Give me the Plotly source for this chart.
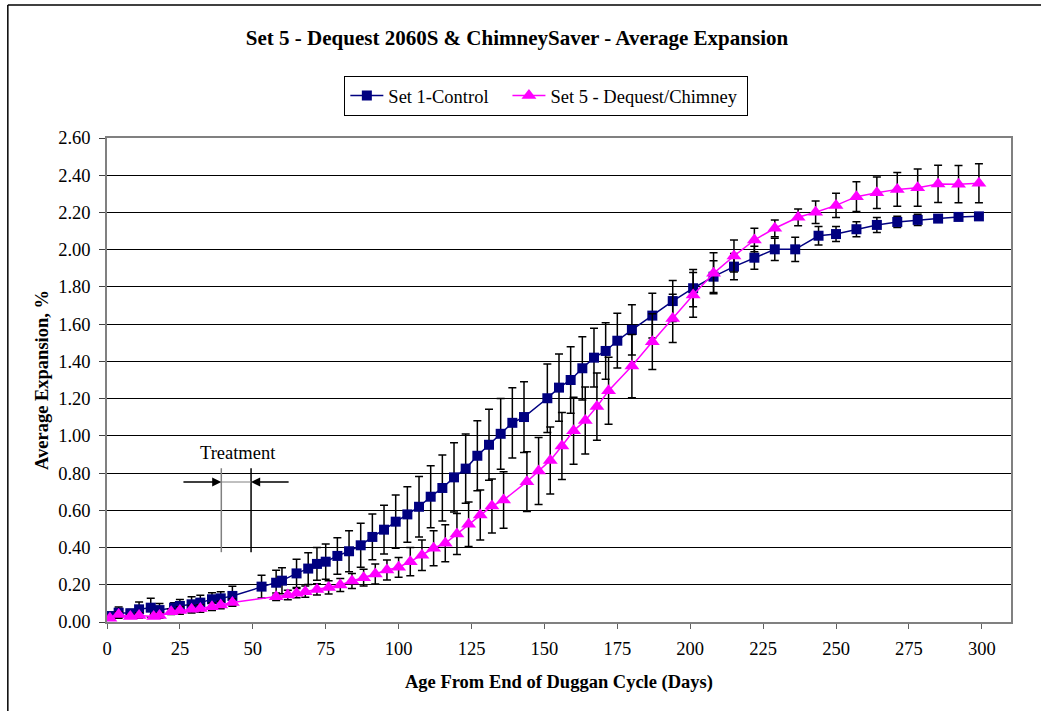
import plotly.graph_objects as go

# ---- data ----
control_days = [1, 4, 8, 11, 15, 18, 23, 25, 29, 32, 36, 39, 43, 53, 58, 60, 65, 69, 72, 75,
                79, 83, 87, 91, 95, 99, 103, 107, 111, 115, 119, 123, 127, 131, 135, 139, 143,
                151, 155, 159, 163, 167, 171, 175, 180, 187, 194, 201, 208, 215, 222, 229, 236,
                244, 250, 257, 264, 271, 278, 285, 292, 299]
control_vals = [0.032, 0.050, 0.047, 0.068, 0.077, 0.064, 0.077, 0.086, 0.095, 0.104, 0.122, 0.127,
                0.140, 0.190, 0.211, 0.222, 0.261, 0.287, 0.312, 0.324, 0.355, 0.380, 0.412, 0.457,
                0.496, 0.539, 0.578, 0.619, 0.673, 0.720, 0.777, 0.824, 0.893, 0.952, 1.011, 1.070,
                1.101, 1.202, 1.259, 1.300, 1.363, 1.420, 1.456, 1.511, 1.569, 1.646, 1.724, 1.793,
                1.855, 1.909, 1.957, 2.002, 2.002, 2.075, 2.084, 2.110, 2.133, 2.149, 2.160, 2.167,
                2.176, 2.179]
control_err = [0.02, 0.03, 0.02, 0.04, 0.05, 0.035, 0.027, 0.035, 0.04, 0.04, 0.035, 0.035, 0.052,
               0.061, 0.067, 0.07, 0.076, 0.085, 0.088, 0.095, 0.098, 0.11, 0.118, 0.123, 0.131,
               0.143, 0.149, 0.162, 0.167, 0.177, 0.186, 0.186, 0.188, 0.191, 0.19, 0.189, 0.19,
               0.184, 0.181, 0.179, 0.17, 0.158, 0.152, 0.147, 0.135, 0.12, 0.11, 0.10, 0.085,
               0.07, 0.062, 0.06, 0.065, 0.05, 0.04, 0.04, 0.04, 0.03, 0.03, 0.01, 0.01, 0.01]

dequest_days = [1, 4, 8, 11, 16, 18, 22, 25, 29, 32, 36, 39, 43, 58, 62, 65, 68, 72, 76, 80, 84,
                88, 92, 96, 100, 104, 108, 112, 116, 120, 124, 128, 132, 136, 144, 148, 152, 156,
                160, 164, 168, 172, 180, 187, 194, 201, 208, 215, 222, 229, 237, 243, 250, 257,
                264, 271, 278, 285, 292, 299]
dequest_vals = [0.02, 0.04, 0.03, 0.035, 0.03, 0.035, 0.055, 0.062, 0.068, 0.073, 0.082, 0.091,
                0.105, 0.136, 0.145, 0.155, 0.163, 0.175, 0.186, 0.199, 0.220, 0.238, 0.258, 0.279,
                0.294, 0.324, 0.358, 0.396, 0.423, 0.473, 0.525, 0.575, 0.623, 0.655, 0.754, 0.811,
                0.868, 0.945, 1.027, 1.082, 1.157, 1.242, 1.375, 1.506, 1.631, 1.757, 1.873, 1.966,
                2.052, 2.115, 2.174, 2.201, 2.238, 2.285, 2.306, 2.324, 2.333, 2.353, 2.352, 2.357]
dequest_err = [0.01, 0.015, 0.01, 0.015, 0.01, 0.015, 0.015, 0.02, 0.02, 0.02, 0.02, 0.02, 0.02,
               0.02, 0.025, 0.025, 0.03, 0.03, 0.035, 0.035, 0.04, 0.045, 0.054, 0.054, 0.053,
               0.076, 0.082, 0.094, 0.1, 0.11, 0.12, 0.134, 0.145, 0.152, 0.16, 0.18, 0.18, 0.18,
               0.18, 0.18, 0.18, 0.18, 0.17, 0.15, 0.13, 0.12, 0.11, 0.086, 0.063, 0.045, 0.045,
               0.06, 0.065, 0.08, 0.085, 0.09, 0.1, 0.1, 0.1, 0.105]

series_names = ["Set 1-Control", "Set 5 - Dequest/Chimney"]
x_ticks = [0, 25, 50, 75, 100, 125, 150, 175, 200, 225, 250, 275, 300]
y_ticks = [0.0, 0.2, 0.4, 0.6, 0.8, 1.0, 1.2, 1.4, 1.6, 1.8, 2.0, 2.2, 2.4, 2.6]

FONT = "Liberation Serif, Times New Roman, serif"
FS = 18.5

fig = go.Figure()
fig.add_trace(go.Scatter(
    x=control_days, y=control_vals, name=series_names[0] + "&nbsp;&nbsp;&nbsp;",
    mode="lines+markers",
    line=dict(color="#000080", width=1.5),
    marker=dict(symbol="square", size=10, color="#000080"),
    error_y=dict(type="data", array=control_err, visible=True, color="black",
                 thickness=1.5, width=4),
))
fig.add_trace(go.Scatter(
    x=dequest_days, y=dequest_vals, name=series_names[1] + "&nbsp;",
    mode="lines+markers",
    line=dict(color="#FF00FF", width=1.5),
    marker=dict(symbol="triangle-up", size=13, color="#FF00FF"),
    error_y=dict(type="data", array=dequest_err, visible=True, color="black",
                 thickness=1.5, width=4),
))

# Treatment annotation (layout constants)
tx1, tx2 = 39.2, 49.4
ty_arrow = 0.752
for xv, col in ((tx1, "#808080"), (tx2, "black")):
    fig.add_shape(type="line", xref="x", yref="y", x0=xv, x1=xv, y0=0.375, y1=0.826,
                  line=dict(color=col, width=1.5))
fig.add_shape(type="line", xref="x", yref="y", x0=tx1, x1=tx2, y0=ty_arrow, y1=ty_arrow,
              line=dict(color="#808080", width=1))
fig.add_annotation(x=tx1, y=ty_arrow, ax=25.7, ay=ty_arrow, axref="x", ayref="y",
                   xref="x", yref="y", text="", showarrow=True, arrowhead=2,
                   arrowsize=1.4, arrowwidth=1.3, arrowcolor="black")
fig.add_annotation(x=tx2, y=ty_arrow, ax=62.8, ay=ty_arrow, axref="x", ayref="y",
                   xref="x", yref="y", text="", showarrow=True, arrowhead=2,
                   arrowsize=1.4, arrowwidth=1.3, arrowcolor="black")
fig.add_annotation(x=45, y=0.906, xref="x", yref="y", text="Treatment", showarrow=False,
                   font=dict(family=FONT, size=FS, color="black"))

# Outer chart border (left and top edges visible)
fig.add_shape(type="line", xref="paper", yref="paper", x0=-0.1097, x1=-0.1097,
              y0=-0.3, y1=1.2747, line=dict(color="black", width=1.5))
fig.add_shape(type="line", xref="paper", yref="paper", x0=-0.1097, x1=1.1,
              y0=1.2747, y1=1.2747, line=dict(color="black", width=1.5))

fig.update_layout(
    width=1041, height=711,
    margin=dict(l=107, r=30, t=138, b=89),
    paper_bgcolor="white", plot_bgcolor="white",
    font=dict(family=FONT, size=FS, color="black"),
    title=dict(text="<b>Set 5 - Dequest 2060S & ChimneySaver - Average Expansion</b>",
               x=517 / 1041, xanchor="center", y=1 - 38 / 711, yanchor="middle",
               xref="container", yref="container",
               font=dict(family=FONT, size=21, color="black")),
    legend=dict(orientation="h", x=0.486, xanchor="center", y=1.128, yanchor="top",
                bordercolor="black", borderwidth=1, bgcolor="white",
                itemwidth=33, tracegroupgap=0,
                font=dict(family=FONT, size=FS, color="black")),
    showlegend=True,
)
fig.update_xaxes(
    range=[0, 310], tickvals=x_ticks, ticktext=[str(v) for v in x_ticks],
    showgrid=False, zeroline=False, showline=True, linecolor="#808080", linewidth=1.5,
    mirror=True, ticks="outside", ticklen=5, tickcolor="#606060",
    ticklabelstandoff=4,
    tickfont=dict(family=FONT, size=FS, color="black"),
    title=dict(text="<b>Age From End of Duggan Cycle (Days)</b>", standoff=17,
               font=dict(family=FONT, size=FS, color="black")),
)
fig.update_yaxes(
    range=[0, 2.6], tickvals=y_ticks, ticktext=[f"{v:.2f}" for v in y_ticks],
    showgrid=True, gridcolor="black", gridwidth=1, zeroline=False,
    showline=True, linecolor="#808080", linewidth=1.5, mirror=True,
    ticks="outside", ticklen=6, tickcolor="#404040",
    ticklabelstandoff=5,
    tickfont=dict(family=FONT, size=FS, color="black"),
    title=dict(text="<b>Average Expansion, %</b>", standoff=5,
               font=dict(family=FONT, size=FS, color="black")),
)

fig.write_html("out.html")
